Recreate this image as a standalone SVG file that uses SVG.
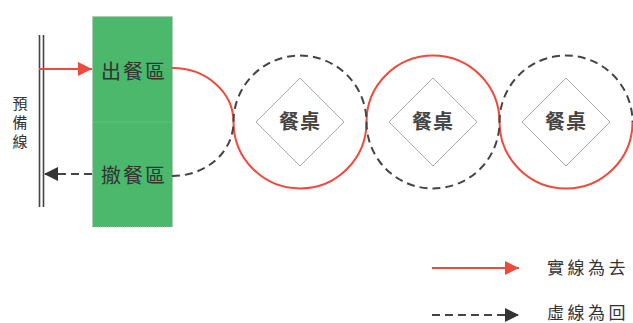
<svg xmlns="http://www.w3.org/2000/svg" width="633" height="323" viewBox="0 0 633 323">
<style>
  .txt{font-family:"Noto Sans CJK TC","Noto Sans CJK SC",sans-serif;fill:#333;}
  .lbl{font-size:20px;letter-spacing:2px;}
  .tbl{font-size:20px;font-weight:bold;fill:#444;letter-spacing:1px;}
  .leg{font-size:17px;letter-spacing:3.5px;}
  .go{fill:none;stroke:#f04a3c;stroke-width:2;}
  .back{fill:none;stroke:#444;stroke-width:2;stroke-dasharray:8 5;}
  .dia{fill:#fff;stroke:#aaa;stroke-width:1;}
</style>
<defs>
  <marker id="ar" viewBox="0 0 10 10" refX="10" refY="5" markerWidth="7" markerHeight="7" markerUnits="strokeWidth" orient="auto">
    <path d="M0,0 L10,5 L0,10 Z" fill="#f04a3c"/>
  </marker>
  <marker id="ab" viewBox="0 0 10 10" refX="10" refY="5" markerWidth="7" markerHeight="7" markerUnits="strokeWidth" orient="auto">
    <path d="M0,0 L10,5 L0,10 Z" fill="#333"/>
  </marker>
</defs>
<rect width="633" height="323" fill="#fff"/>

<g id="standby-line">
  <line x1="39.5" y1="35" x2="39.5" y2="207" stroke="#444" stroke-width="1.6"/>
  <line x1="43.5" y1="35" x2="43.5" y2="207" stroke="#444" stroke-width="1.6"/>
  <text class="txt" font-size="15" text-anchor="middle" x="20" y="109">預</text>
  <text class="txt" font-size="15" text-anchor="middle" x="20" y="128">備</text>
  <text class="txt" font-size="15" text-anchor="middle" x="20" y="147">線</text>
</g>

<g id="kitchen">
  <rect x="92.5" y="16.5" width="80" height="210.5" fill="#4cb86b" stroke="#bbb" stroke-width="0.8" stroke-dasharray="1 1"/>
  <line x1="93" y1="122" x2="172" y2="122" stroke="#8fa" stroke-opacity="0.5" stroke-width="0.8" stroke-dasharray="1 1"/>
</g>
<g id="serve-out"><text class="txt lbl" text-anchor="middle" x="134" y="79">出餐區</text></g>
<g id="clear-back"><text class="txt lbl" text-anchor="middle" x="134" y="183">撤餐區</text></g>

<g id="connectors">
  <line class="go" x1="39" y1="69" x2="92" y2="69" marker-end="url(#ar)"/>
  <line class="back" x1="92" y1="174" x2="44" y2="174" marker-end="url(#ab)"/>
  <path class="go" d="M172,68 A61,54 0 0 1 233.5,122 A66.5,66.5 0 0 0 366.5,122 A66.5,66.5 0 0 1 499.5,122 A66.5,66.5 0 0 0 632.5,122"/>
  <path class="back" d="M172,176 A61,54 0 0 0 233.5,122 A66.5,66.5 0 0 1 366.5,122 A66.5,66.5 0 0 0 499.5,122 A66.5,66.5 0 0 1 632.5,122"/>
</g>

<g id="table1">
  <polygon class="dia" points="300,78 344,122 300,166 256,122"/>
  <text class="txt tbl" text-anchor="middle" x="300" y="129">餐桌</text>
</g>
<g id="table2">
  <polygon class="dia" points="433,78 477,122 433,166 389,122"/>
  <text class="txt tbl" text-anchor="middle" x="433" y="129">餐桌</text>
</g>
<g id="table3">
  <polygon class="dia" points="566,78 610,122 566,166 522,122"/>
  <text class="txt tbl" text-anchor="middle" x="566" y="129">餐桌</text>
</g>

<g id="legend">
  <line class="go" x1="432" y1="268" x2="519" y2="268" marker-end="url(#ar)"/>
  <text class="txt leg" x="547" y="274">實線為去</text>
  <line class="back" x1="432" y1="315" x2="519" y2="315" marker-end="url(#ab)"/>
  <text class="txt leg" x="547" y="319">虛線為回</text>
</g>
</svg>
